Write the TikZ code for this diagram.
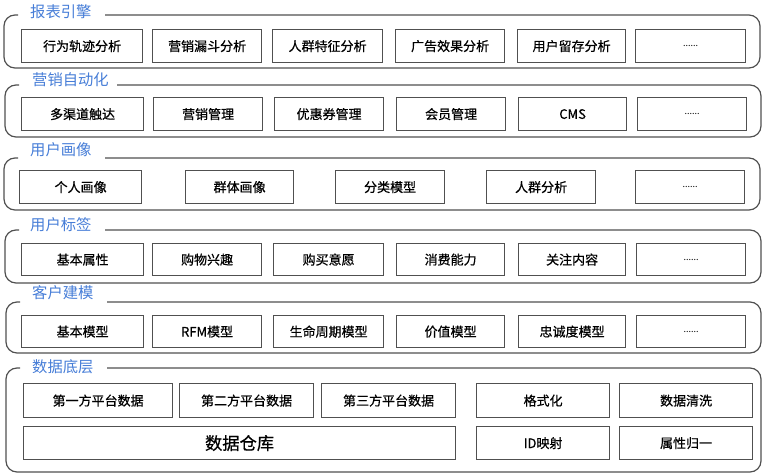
\documentclass[tikz,border=0pt]{standalone}
\usepackage{fontspec}
\setmainfont{Noto Sans CJK SC}
\newfontfamily\boxfont[FakeBold=0.6]{Noto Sans CJK SC}
\definecolor{edge}{RGB}{80,80,80}
\definecolor{ttl}{RGB}{70,125,215}
\tikzset{
  box/.style={draw=edge,line width=1.2pt,inner sep=0pt,anchor=north west,font=\boxfont\fontsize{13}{13}\selectfont,text=black},
  grp/.style={draw=edge,line width=1.2pt,rounded corners=11pt},
  ttlnode/.style={anchor=west,inner sep=0pt,text=ttl,font=\fontsize{15.3}{15.3}\selectfont}
}
\newcommand\bx[6]{\node[box,minimum width={#4-#2},minimum height={#5-#3}] (#1) at (#2,#3) {#6};}
\newcommand\mydots[5]{\node[box,minimum width={#4-#2},minimum height={#5-#3},font=\fontsize{9}{9}\selectfont] (#1) at (#2,#3) {......};}
\newcommand\grpframe[6]{% left top right bottom linestart stub
  \draw[grp] (#5,#2) -- (#3,#2) -- (#3,#4) -- (#1,#4) -- (#1,#2) -- (#6,#2);}
\begin{document}
\begin{tikzpicture}[x=1pt,y=-1pt]
\useasboundingbox (0,0) rectangle (766,476);
% group 1
\node[ttlnode] (t1) at (30,12) {报表引擎};
\grpframe{4}{15}{760}{68}{105}{18}
\bx{a1}{21}{29}{142}{62}{行为轨迹分析}
\bx{a2}{152}{29}{261}{62}{营销漏斗分析}
\bx{a3}{272}{29}{382}{62}{人群特征分析}
\bx{a4}{395}{29}{504}{62}{广告效果分析}
\bx{a5}{517}{29}{625}{62}{用户留存分析}
\mydots{a6}{635}{29}{745}{62}
% group 2
\node[ttlnode] (t2) at (32,80) {营销自动化};
\grpframe{5}{85}{761}{137}{117}{19}
\bx{b1}{21}{97}{143}{130}{多渠道触达}
\bx{b2}{153}{97}{262}{130}{营销管理}
\bx{b3}{274}{97}{383}{130}{优惠券管理}
\bx{b4}{396}{97}{505}{130}{会员管理}
\bx{b5}{518}{97}{626}{130}{CMS}
\mydots{b6}{637}{97}{746}{130}
% group 3
\node[ttlnode] (t3) at (30,150) {用户画像};
\grpframe{4}{158}{760}{210}{105}{18}
\bx{c1}{19}{170}{141}{203}{个人画像}
\bx{c2}{185}{170}{293}{203}{群体画像}
\bx{c3}{335}{170}{444}{203}{分类模型}
\bx{c4}{486}{170}{595}{203}{人群分析}
\mydots{c5}{635}{170}{744}{203}
% group 4
\node[ttlnode] (t4) at (30,225) {用户标签};
\grpframe{5}{230}{761}{283}{105}{19}
\bx{d1}{21}{243}{143}{275}{基本属性}
\bx{d2}{152}{243}{261}{275}{购物兴趣}
\bx{d3}{273}{243}{383}{275}{购买意愿}
\bx{d4}{396}{243}{504}{275}{消费能力}
\bx{d5}{518}{243}{625}{275}{关注内容}
\mydots{d6}{636}{243}{745}{275}
% group 5
\node[ttlnode] (t5) at (32,293) {客户建模};
\grpframe{6}{302}{761}{353}{107}{20}
\bx{e1}{21}{315}{143}{347}{基本模型}
\bx{e2}{152}{315}{261}{347}{RFM模型}
\bx{e3}{273}{315}{383}{347}{生命周期模型}
\bx{e4}{396}{315}{504}{347}{价值模型}
\bx{e5}{518}{315}{625}{347}{忠诚度模型}
\mydots{e6}{636}{315}{745}{347}
% group 6
\node[ttlnode] (t6) at (32,367) {数据底层};
\grpframe{6}{368}{761}{472}{107}{20}
\bx{f1}{23}{383}{172}{417}{第一方平台数据}
\bx{f2}{179}{383}{313}{417}{第二方平台数据}
\bx{f3}{321}{383}{455}{417}{第三方平台数据}
\bx{f4}{476}{383}{609}{417}{格式化}
\bx{f5}{619}{383}{752}{417}{数据清洗}
\node[box,minimum width=432,minimum height=33,font=\boxfont\fontsize{17.3}{17.3}\selectfont] (f6) at (23,426) {数据仓库};
\bx{f7}{476}{426}{609}{459}{ID映射}
\bx{f8}{619}{426}{752}{459}{属性归一}
\end{tikzpicture}
\end{document}
